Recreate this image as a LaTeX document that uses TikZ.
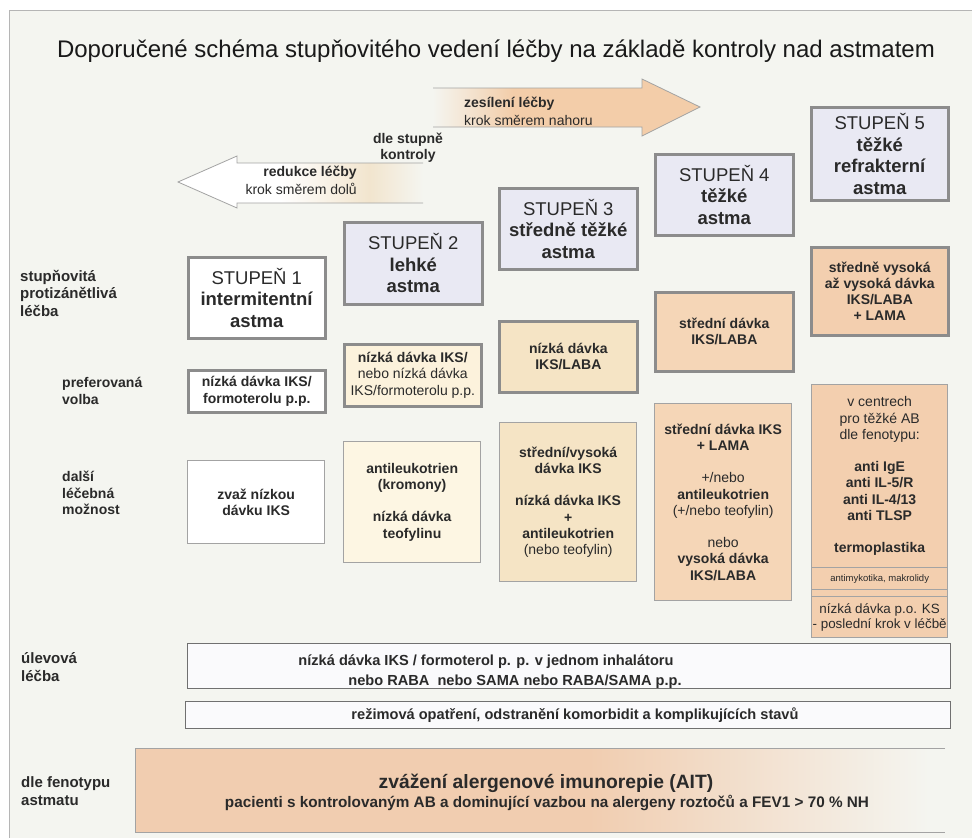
\documentclass[tikz,border=0pt]{standalone}
\usepackage{fontspec}
\setmainfont{Liberation Sans}
\definecolor{bgc}{HTML}{F4F5F0}
\definecolor{framec}{HTML}{B5B5B5}
\definecolor{lav}{HTML}{E9E9F3}
\definecolor{bordc}{HTML}{8C8C8C}
\definecolor{optc}{HTML}{A3A3A3}
\definecolor{ctwo}{HTML}{FCF2DC}
\definecolor{ctwob}{HTML}{FDF6E3}
\definecolor{cthree}{HTML}{F5E4C5}
\definecolor{cfour}{HTML}{F5D6B7}
\definecolor{cfive}{HTML}{F3CFAF}
\definecolor{arrpeach}{HTML}{F3CDA9}
\definecolor{downtint}{HTML}{F2E5CE}
\definecolor{aitpeach}{HTML}{F1CDB0}
\definecolor{txt}{HTML}{2A2A2A}
\definecolor{barfill}{HTML}{FAFAFC}
\definecolor{barline}{HTML}{707070}
\pgfdeclarehorizontalshading{upsh}{100bp}{color(0bp)=(bgc); color(25bp)=(bgc); color(40bp)=(arrpeach); color(100bp)=(arrpeach)}
\pgfdeclarehorizontalshading{downsh}{100bp}{color(0bp)=(white); color(25bp)=(white); color(46bp)=(white); color(64bp)=(downtint); color(75bp)=(bgc); color(100bp)=(bgc)}
\pgfdeclarehorizontalshading{aitsh}{100bp}{color(0bp)=(aitpeach); color(25bp)=(aitpeach); color(53bp)=(aitpeach); color(74bp)=(bgc); color(100bp)=(bgc)}
\tikzset{
  every node/.style={inner sep=0pt, text=txt},
  stepbox/.style={draw=bordc, line width=2.6pt, fill=lav, align=center, anchor=north west,
    font=\fontsize{18.5}{21.5}\selectfont},
  prefbox/.style={draw=bordc, line width=2.6pt, align=center, anchor=north west,
    font=\fontsize{14}{16.2}\selectfont\bfseries},
  optbox/.style={draw=optc, line width=1.3pt, align=center, anchor=north west,
    font=\fontsize{14}{16.2}\selectfont\bfseries},
  barbox/.style={draw=barline, line width=0.9pt, fill=barfill, anchor=north west},
  sidelab/.style={anchor=west, align=left, font=\fontsize{15}{17.5}\selectfont\bfseries},
  sidelabs/.style={anchor=west, align=left, font=\fontsize{14}{16.2}\selectfont\bfseries},
  arrline/.style={draw=optc, line width=0.8pt},
}
\begin{document}
\begin{tikzpicture}[x=1pt,y=-1pt]
\useasboundingbox (0,0) rectangle (972,838);
\fill[white] (0,0) rectangle (972,838);
\filldraw[fill=bgc, draw=framec, line width=1pt] (9.5,10.5) rectangle (990,860);

% title
\node[anchor=base, font=\fontsize{24}{28}\selectfont, text=black!90] (title) at (496,57)
  {Doporučené schéma stupňovitého vedení léčby na základě kontroly nad astmatem};

% up arrow
\shade[shading=upsh] (433,88) -- (642,88) -- (642,79) -- (700,107) -- (642,136) -- (642,127) -- (433,127) -- cycle;
\draw[arrline] (433,88) -- (642,88) -- (642,79) -- (700,107) -- (642,136) -- (642,127) -- (433,127);
\node[anchor=west, font=\fontsize{14}{16}\selectfont\bfseries] (up1) at (464,104) {zesílení léčby};
\node[anchor=west, font=\fontsize{14}{16}\selectfont] (up2) at (464,120) {krok směrem nahoru};

% down arrow
\shade[shading=downsh] (423,163) -- (237,163) -- (237,156) -- (178,182) -- (237,208) -- (237,203) -- (423,203) -- cycle;
\draw[arrline] (423,163) -- (237,163) -- (237,156) -- (178,182) -- (237,208) -- (237,203) -- (423,203);
\node[anchor=east, font=\fontsize{14}{16}\selectfont\bfseries] (dn1) at (357,173) {redukce léčby};
\node[anchor=east, font=\fontsize{14}{16}\selectfont] (dn2) at (357,189) {krok směrem dolů};

\node[align=center, font=\fontsize{14}{16}\selectfont\bfseries] (dle) at (408,148) {dle stupně\\kontroly};

% left labels
\node[sidelab] (lab1) at (20,293) {stupňovitá\\protizánětlivá\\léčba};
\node[sidelabs] (lab2) at (62,391) {preferovaná\\volba};
\node[sidelabs] (lab3) at (62,493) {další\\léčebná\\možnost};
\node[sidelab] (lab4) at (21,667) {úlevová\\léčba};
\node[sidelab] (lab5) at (21,791) {dle fenotypu\\astmatu};

% step boxes
\node[stepbox, fill=white, minimum width=137pt, minimum height=81pt] (s1) at (187,256)
  {STUPEŇ 1\\\textbf{intermitentní}\\\textbf{astma}};
\node[stepbox, minimum width=138pt, minimum height=82pt] (s2) at (343,221)
  {STUPEŇ 2\\\textbf{lehké}\\\textbf{astma}};
\node[stepbox, minimum width=138pt, minimum height=81pt] (s3) at (498,187)
  {STUPEŇ 3\\\textbf{středně těžké}\\\textbf{astma}};
\node[stepbox, minimum width=138pt, minimum height=81pt] (s4) at (654,153)
  {STUPEŇ 4\\\textbf{těžké}\\\textbf{astma}};
\node[stepbox, minimum width=137pt, minimum height=93pt] (s5) at (810,106)
  {STUPEŇ 5\\\textbf{těžké}\\\textbf{refrakterní}\\\textbf{astma}};

% preferred
\node[prefbox, fill=white, minimum width=137pt, minimum height=42pt] (p1) at (187,369)
  {nízká dávka IKS/\\formoterolu p.p.};
\node[prefbox, fill=ctwo, minimum width=137pt, minimum height=62pt] (p2) at (343,343)
  {nízká dávka IKS/\\\mdseries nebo nízká dávka\\\mdseries IKS/formoterolu p.p.};
\node[prefbox, fill=cthree, minimum width=138pt, minimum height=71pt] (p3) at (498,320)
  {nízká dávka\\IKS/LABA};
\node[prefbox, fill=cfour, minimum width=138pt, minimum height=79pt] (p4) at (654,291)
  {střední dávka\\IKS/LABA};
\node[prefbox, fill=cfive, minimum width=137pt, minimum height=88pt] (p5) at (810,246)
  {středně vysoká\\až vysoká dávka\\IKS/LABA\\+ LAMA};

% other options
\node[optbox, fill=white, minimum width=137pt, minimum height=83pt] (o1) at (187,460)
  {zvaž nízkou\\dávku IKS};
\node[optbox, fill=ctwob, minimum width=137pt, minimum height=121pt] (o2) at (343,441)
  {antileukotrien\\(kromony)\\[16.2pt]nízká dávka\\teofylinu};
\node[optbox, fill=cthree, minimum width=137pt, minimum height=159pt] (o3) at (499,422)
  {střední/vysoká\\dávka IKS\\[16.2pt]nízká dávka IKS\\+\\antileukotrien\\\mdseries(nebo teofylin)};
\node[optbox, fill=cfour, minimum width=137pt, minimum height=197pt] (o4) at (654,403)
  {střední dávka IKS\\+ LAMA\\[16.2pt]\mdseries+/nebo\\antileukotrien\\\mdseries(+/nebo teofylin)\\[16.2pt]\mdseries nebo\\vysoká dávka\\IKS/LABA};
\node[optbox, fill=cfive, minimum width=136pt, minimum height=183pt] (o5a) at (811,384)
  {\mdseries v centrech\\\mdseries pro těžké AB\\\mdseries dle fenotypu:\\[16.2pt]anti IgE\\anti IL-5/R\\anti IL-4/13\\anti TLSP\\[16.2pt]termoplastika};
\node[optbox, fill=cfive, minimum width=136pt, minimum height=22pt, font=\fontsize{9.5}{11}\selectfont] (o5b) at (811,567)
  {antimykotika, makrolidy};
\node[optbox, fill=cfive, minimum width=136pt, minimum height=7pt] (o5c) at (811,589) {};
\node[optbox, fill=cfive, minimum width=136pt, minimum height=41pt, font=\fontsize{13.4}{15}\selectfont] (o5d) at (811,596)
  {nízká dávka p.o. KS\\- poslední krok v léčbě};

% bottom bars
\node[barbox, minimum width=763pt, minimum height=45pt] (rel) at (187,643) {};
\node[font=\fontsize{14.6}{16}\selectfont\bfseries] (rel1) at (486,662)
  {nízká dávka IKS / formoterol p. p. v jednom inhalátoru};
\node[font=\fontsize{14.6}{16}\selectfont\bfseries] (rel2) at (515,682)
  {nebo RABA\ \ nebo SAMA nebo RABA/SAMA p.p.};
\node[barbox, minimum width=765pt, minimum height=27pt] (rez) at (185,701) {};
\node[font=\fontsize{14.6}{16}\selectfont\bfseries] (rez1) at (575,715)
  {režimová opatření, odstranění komorbidit a komplikujících stavů};

% AIT
\shade[shading=aitsh] (135,748) rectangle (945,832);
\draw[draw=optc, line width=1pt] (945,748) -- (135,748) -- (135,832) -- (945,832);
\node[font=\fontsize{19.3}{22}\selectfont\bfseries] (ait1) at (546,783)
  {zvážení alergenové imunorepie (AIT)};
\node[font=\fontsize{15.3}{17}\selectfont\bfseries] (ait2) at (547,803)
  {pacienti s kontrolovaným AB a dominující vazbou na alergeny roztočů a FEV1 > 70 \% NH};
\end{tikzpicture}
\end{document}
